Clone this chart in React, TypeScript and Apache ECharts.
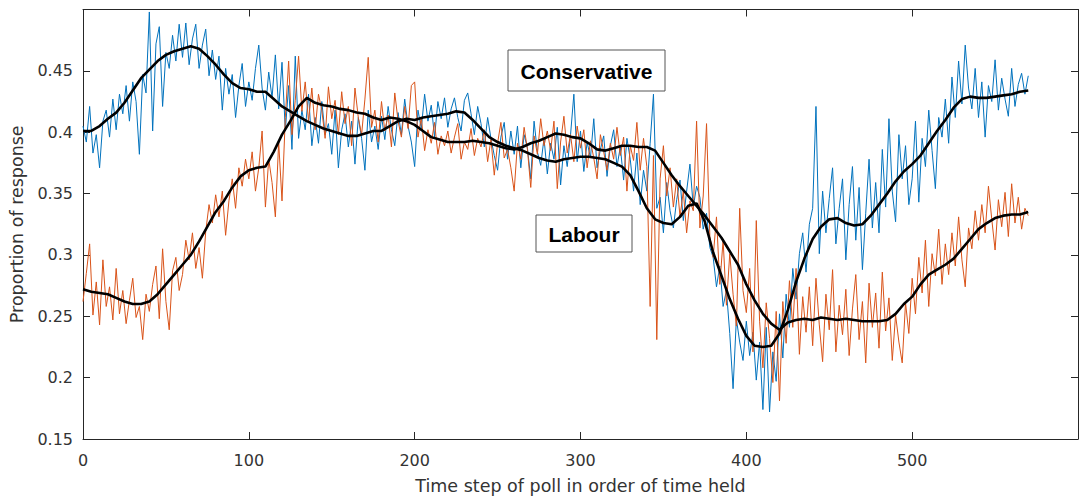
import React, { useEffect, useRef } from "react";
import * as echarts from "echarts";

// Time step between raw poll samples and between smoothed samples
const rawStep = 2;
const trendStep = 5;

// Raw Conservative proportion (t = 0, 2, 4, ... 570)
const consRaw = [
  0.405, 0.392, 0.421, 0.383, 0.398, 0.371, 0.409, 0.418, 0.396, 0.427,
  0.402, 0.431, 0.415, 0.438, 0.409, 0.441, 0.425, 0.382, 0.447, 0.432,
  0.498, 0.401, 0.472, 0.486, 0.421, 0.465, 0.452, 0.479, 0.458, 0.488,
  0.461, 0.489, 0.455, 0.476, 0.488, 0.452, 0.471, 0.484, 0.446, 0.467,
  0.443, 0.462, 0.418, 0.452, 0.431, 0.447, 0.412, 0.438, 0.456, 0.421,
  0.441, 0.426, 0.452, 0.471, 0.436, 0.418, 0.449, 0.428, 0.463, 0.419,
  0.457, 0.401, 0.438, 0.386, 0.462, 0.395, 0.418, 0.402, 0.431, 0.389,
  0.412, 0.391, 0.425, 0.398, 0.407, 0.382, 0.418, 0.371, 0.402, 0.415,
  0.388, 0.409, 0.374, 0.412, 0.395, 0.369, 0.418, 0.392, 0.405, 0.386,
  0.413, 0.394, 0.421, 0.402, 0.389, 0.416, 0.398, 0.427, 0.405, 0.392,
  0.372, 0.418, 0.403, 0.431, 0.409, 0.422, 0.396, 0.425, 0.411, 0.428,
  0.404, 0.419, 0.428, 0.412, 0.401, 0.426, 0.432, 0.415, 0.398, 0.421,
  0.407, 0.388, 0.412, 0.395, 0.381, 0.369, 0.396, 0.408, 0.378, 0.401,
  0.382, 0.405, 0.371, 0.398, 0.387, 0.362, 0.409, 0.384, 0.373, 0.395,
  0.366, 0.391, 0.378, 0.404, 0.357, 0.389, 0.372, 0.398, 0.431, 0.376,
  0.401, 0.368, 0.392, 0.379, 0.411, 0.371, 0.386, 0.397, 0.364, 0.389,
  0.402, 0.372, 0.388, 0.361, 0.395, 0.378, 0.352, 0.383, 0.341, 0.369,
  0.352, 0.391, 0.431, 0.338, 0.347, 0.318, 0.359, 0.336, 0.322, 0.345,
  0.361, 0.328, 0.352, 0.374, 0.339, 0.356, 0.347, 0.321, 0.334, 0.306,
  0.298, 0.274, 0.291, 0.258, 0.271, 0.236, 0.191, 0.248, 0.229, 0.214,
  0.246, 0.218, 0.237, 0.198, 0.229, 0.174, 0.241, 0.172, 0.221, 0.197,
  0.252, 0.216, 0.268, 0.241, 0.289, 0.264, 0.301, 0.318, 0.286, 0.325,
  0.338, 0.421, 0.301, 0.352, 0.318, 0.346, 0.371, 0.309, 0.338, 0.362,
  0.296, 0.341, 0.372, 0.312, 0.355, 0.288, 0.334, 0.378, 0.322, 0.359,
  0.318, 0.386, 0.339, 0.411, 0.352, 0.327, 0.398, 0.362, 0.389, 0.341,
  0.362, 0.409, 0.343, 0.395, 0.372, 0.418, 0.385, 0.354, 0.412, 0.396,
  0.427, 0.391, 0.445, 0.412, 0.458, 0.423, 0.471, 0.436, 0.419, 0.452,
  0.412, 0.441, 0.396, 0.438, 0.425, 0.459, 0.418, 0.444, 0.427, 0.413,
  0.452, 0.421, 0.439, 0.448, 0.431, 0.446,
];

// Raw Labour proportion (t = 0, 2, 4, ... 570)
const labRaw = [
  0.262, 0.285, 0.309, 0.251, 0.278, 0.243, 0.296, 0.258, 0.274, 0.247,
  0.289, 0.252, 0.271, 0.244, 0.263, 0.281, 0.249, 0.258, 0.231, 0.268,
  0.254, 0.276, 0.291, 0.248, 0.305, 0.262, 0.239, 0.287, 0.298, 0.271,
  0.284, 0.312, 0.296, 0.318, 0.289, 0.306, 0.281, 0.319, 0.341, 0.326,
  0.349, 0.331, 0.352, 0.316, 0.344, 0.362, 0.338, 0.371, 0.356, 0.378,
  0.362, 0.384, 0.352, 0.371, 0.401, 0.339, 0.378, 0.359, 0.331, 0.392,
  0.344, 0.412, 0.458, 0.398, 0.426, 0.462, 0.417, 0.441, 0.409, 0.436,
  0.402, 0.431, 0.418, 0.395, 0.437, 0.411, 0.426, 0.398, 0.433, 0.407,
  0.421, 0.389, 0.436, 0.412, 0.398, 0.427, 0.461, 0.404, 0.418, 0.392,
  0.425, 0.401, 0.414, 0.388, 0.432, 0.409, 0.396, 0.421, 0.403, 0.438,
  0.441, 0.396, 0.412, 0.385, 0.402, 0.391, 0.408, 0.382, 0.397, 0.389,
  0.401, 0.383, 0.396, 0.407, 0.378, 0.392, 0.386, 0.403, 0.381, 0.395,
  0.388, 0.402, 0.376, 0.394, 0.365, 0.391, 0.408, 0.379, 0.386, 0.371,
  0.352, 0.391, 0.378, 0.404, 0.386, 0.355, 0.397, 0.382, 0.411, 0.389,
  0.401, 0.385, 0.409, 0.354, 0.392, 0.413, 0.383, 0.398, 0.376, 0.405,
  0.387, 0.402, 0.371, 0.393, 0.379, 0.362, 0.398, 0.384, 0.369, 0.391,
  0.378, 0.404, 0.381, 0.396, 0.352, 0.389, 0.377, 0.408, 0.369, 0.395,
  0.372, 0.258, 0.381, 0.231, 0.362, 0.389, 0.348, 0.371, 0.339, 0.362,
  0.331, 0.352, 0.318, 0.344, 0.336, 0.409, 0.322, 0.348, 0.407, 0.315,
  0.298, 0.331, 0.276, 0.312, 0.259, 0.301, 0.268, 0.242, 0.338, 0.271,
  0.253, 0.289, 0.221, 0.328, 0.246, 0.208, 0.261, 0.232, 0.196, 0.254,
  0.181, 0.262, 0.228, 0.279, 0.241, 0.289, 0.219, 0.266, 0.237, 0.274,
  0.226, 0.281, 0.243, 0.213, 0.268, 0.239, 0.288, 0.221, 0.259, 0.235,
  0.272, 0.218, 0.256, 0.284, 0.231, 0.262, 0.212, 0.277, 0.241, 0.269,
  0.224, 0.286, 0.238, 0.265, 0.214, 0.251, 0.229, 0.212, 0.261, 0.236,
  0.281, 0.252, 0.298, 0.269, 0.312, 0.258, 0.301, 0.283, 0.321, 0.276,
  0.309, 0.284, 0.318, 0.291, 0.331, 0.296, 0.274, 0.322, 0.305, 0.336,
  0.312, 0.341, 0.318, 0.356, 0.329, 0.304, 0.345, 0.323, 0.351, 0.315,
  0.358, 0.326, 0.347, 0.321, 0.338, 0.332,
];

// Smoothed Conservative (t = 0, 5, 10, ... 570)
const consTrend = [
  0.401, 0.401, 0.405, 0.411, 0.416, 0.424, 0.434, 0.444, 0.451, 0.458,
  0.463, 0.466, 0.468, 0.470, 0.468, 0.462, 0.455, 0.447, 0.440, 0.436,
  0.435, 0.433, 0.433, 0.427, 0.421, 0.417, 0.413, 0.409, 0.406, 0.403,
  0.401, 0.399, 0.397, 0.397, 0.399, 0.401, 0.401, 0.405, 0.409, 0.411,
  0.410, 0.412, 0.413, 0.414, 0.415, 0.417, 0.416, 0.410, 0.403, 0.396,
  0.392, 0.389, 0.387, 0.385, 0.382, 0.379, 0.377, 0.376, 0.378, 0.379,
  0.380, 0.380, 0.379, 0.378, 0.375, 0.372, 0.365, 0.352, 0.338, 0.329,
  0.326, 0.325, 0.331, 0.340, 0.342, 0.327, 0.302, 0.283, 0.264, 0.248,
  0.234, 0.226, 0.225, 0.226, 0.236, 0.255, 0.278, 0.297, 0.313, 0.323,
  0.329, 0.330, 0.326, 0.324, 0.325, 0.332, 0.341, 0.350, 0.360, 0.368,
  0.374, 0.381, 0.391, 0.401, 0.410, 0.420, 0.427, 0.429, 0.428, 0.428,
  0.429, 0.430, 0.431, 0.433, 0.434,
];

// Smoothed Labour (t = 0, 5, 10, ... 570)
const labTrend = [
  0.272, 0.270, 0.269, 0.268, 0.265, 0.262, 0.260, 0.260, 0.262, 0.268,
  0.276, 0.284, 0.292, 0.300, 0.311, 0.323, 0.335, 0.344, 0.355, 0.364,
  0.369, 0.371, 0.372, 0.384, 0.398, 0.409, 0.421, 0.428, 0.424, 0.422,
  0.421, 0.419, 0.418, 0.416, 0.415, 0.412, 0.410, 0.412, 0.411, 0.409,
  0.406, 0.401, 0.396, 0.394, 0.392, 0.392, 0.392, 0.393, 0.392, 0.391,
  0.389, 0.387, 0.386, 0.388, 0.391, 0.393, 0.396, 0.399, 0.398, 0.396,
  0.395, 0.391, 0.386, 0.385, 0.387, 0.389, 0.389, 0.388, 0.388, 0.385,
  0.375, 0.365, 0.356, 0.348, 0.340, 0.332, 0.323, 0.314, 0.303, 0.292,
  0.276, 0.263, 0.252, 0.244, 0.239, 0.245, 0.247, 0.248, 0.247, 0.249,
  0.248, 0.247, 0.248, 0.247, 0.246, 0.246, 0.246, 0.247, 0.252, 0.260,
  0.266, 0.276, 0.284, 0.288, 0.292, 0.297, 0.305, 0.313, 0.321, 0.326,
  0.330, 0.332, 0.333, 0.333, 0.335,
];

const xTicks = [0, 100, 200, 300, 400, 500];
const yTicks = [0.15, 0.2, 0.25, 0.3, 0.35, 0.4, 0.45];
const seriesNames = ["Conservative", "Labour"];

const toPairs = (arr: number[], step: number) => arr.map((v, i) => [i * step, v]);

const AXIS_COLOR = "#262626";
const TEXT_COLOR = "#333333";
const FONT = "DejaVu Sans";

export default function App() {
  const ref = useRef<HTMLDivElement>(null);

  useEffect(() => {
    if (!ref.current) return;
    const chart = echarts.init(ref.current, undefined, { renderer: "svg" });

    const baseX = {
      type: "value" as const,
      min: 0,
      max: 600,
      interval: 100,
      splitLine: { show: false },
      axisLine: { show: true, onZero: false, lineStyle: { color: AXIS_COLOR, width: 1 } },
      axisTick: { show: true, inside: true, length: 7, lineStyle: { color: AXIS_COLOR } },
    };
    const baseY = {
      type: "value" as const,
      min: 0.15,
      max: 0.5,
      interval: 0.05,
      splitLine: { show: false },
      axisLine: { show: true, onZero: false, lineStyle: { color: AXIS_COLOR, width: 1 } },
      axisTick: { show: true, inside: true, length: 7, lineStyle: { color: AXIS_COLOR } },
    };

    chart.setOption({
      animation: false,
      backgroundColor: "#ffffff",
      grid: { left: 83, right: -4, top: 9.5, bottom: 60, containLabel: false },
      xAxis: [
        {
          ...baseX,
          position: "bottom",
          name: "Time step of poll in order of time held",
          nameLocation: "middle",
          nameGap: 38,
          nameTextStyle: { fontFamily: FONT, fontSize: 17.5, color: TEXT_COLOR },
          axisLabel: {
            margin: 13,
            fontFamily: FONT,
            fontSize: 16,
            color: TEXT_COLOR,
            formatter: (v: number) => (xTicks.includes(v) ? String(v) : ""),
          },
        },
        { ...baseX, position: "top", axisLabel: { show: false } },
      ],
      yAxis: [
        {
          ...baseY,
          position: "left",
          name: "Proportion of response",
          nameLocation: "middle",
          nameGap: 56,
          nameRotate: 90,
          nameTextStyle: { fontFamily: FONT, fontSize: 17.5, color: TEXT_COLOR },
          axisLabel: {
            margin: 10,
            fontFamily: FONT,
            fontSize: 16,
            color: TEXT_COLOR,
            formatter: (v: number) => {
              const r = Math.round(v * 100) / 100;
              return yTicks.some((t) => Math.abs(t - r) < 1e-9) ? String(r) : "";
            },
          },
        },
        { ...baseY, position: "right", axisLabel: { show: false } },
      ],
      series: [
        {
          name: seriesNames[0],
          type: "line",
          data: toPairs(consRaw, rawStep),
          symbol: "none",
          lineStyle: { color: "#0072BD", width: 1 },
          z: 2,
        },
        {
          name: seriesNames[1],
          type: "line",
          data: toPairs(labRaw, rawStep),
          symbol: "none",
          lineStyle: { color: "#D95319", width: 1 },
          z: 3,
        },
        {
          name: seriesNames[0] + " (smoothed)",
          type: "line",
          data: toPairs(consTrend, trendStep),
          symbol: "none",
          lineStyle: { color: "#000000", width: 2.6 },
          z: 4,
        },
        {
          name: seriesNames[1] + " (smoothed)",
          type: "line",
          data: toPairs(labTrend, trendStep),
          symbol: "none",
          lineStyle: { color: "#000000", width: 2.6 },
          z: 4,
        },
      ],
      graphic: [
        {
          type: "rect",
          shape: { x: 508, y: 50, width: 157, height: 41 },
          style: { fill: "#ffffff", stroke: "#555555", lineWidth: 1 },
          z: 100,
        },
        {
          type: "text",
          x: 586.5,
          y: 71,
          style: {
            text: seriesNames[0],
            font: 'bold 21px "Liberation Sans", Arial, sans-serif',
            fill: "#000000",
            align: "center",
            verticalAlign: "middle",
            textAlign: "center",
            textVerticalAlign: "middle",
          },
          z: 101,
        },
        {
          type: "rect",
          shape: { x: 536, y: 215, width: 96, height: 37 },
          style: { fill: "#ffffff", stroke: "#555555", lineWidth: 1 },
          z: 100,
        },
        {
          type: "text",
          x: 584,
          y: 234,
          style: {
            text: seriesNames[1],
            font: 'bold 21px "Liberation Sans", Arial, sans-serif',
            fill: "#000000",
            align: "center",
            verticalAlign: "middle",
            textAlign: "center",
            textVerticalAlign: "middle",
          },
          z: 101,
        },
      ],
    });

    return () => chart.dispose();
  }, []);

  return (
    <div
      ref={ref}
      style={{ position: "fixed", left: 0, top: 0, width: 1081, height: 500 }}
    />
  );
}
